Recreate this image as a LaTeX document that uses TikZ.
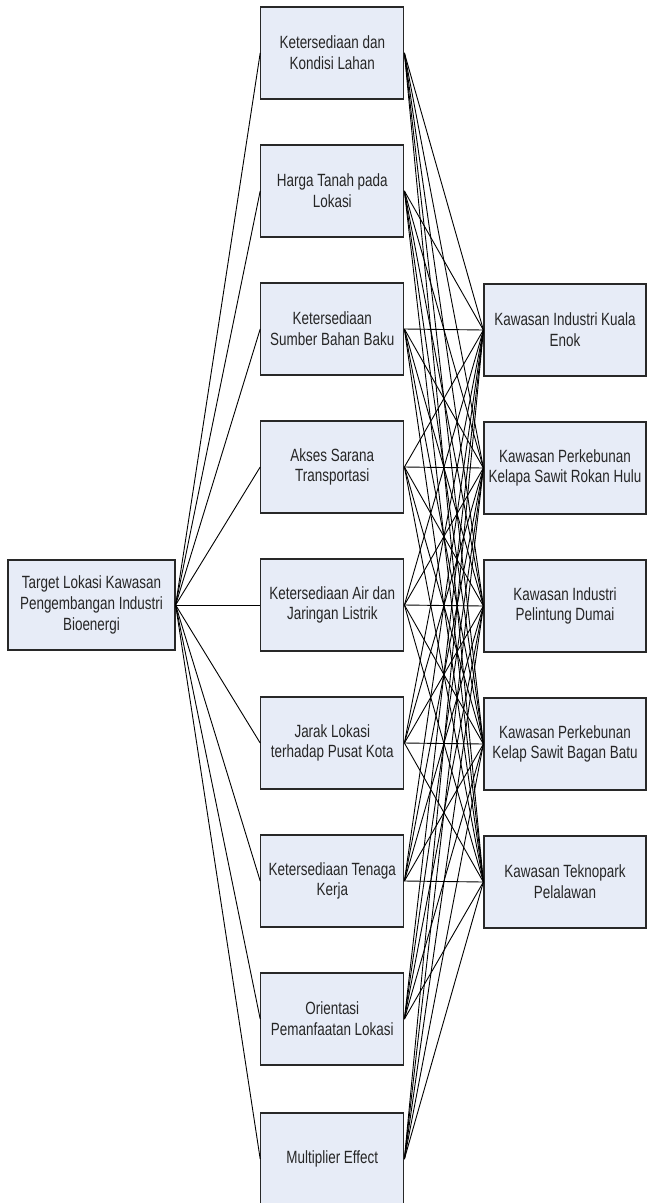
\documentclass[tikz,border=0pt]{standalone}
\usepackage{fontspec}
\newfontfamily\narrowsans[FakeStretch=0.76]{Liberation Sans}
\definecolor{boxfill}{RGB}{231,236,247}
\definecolor{boxline}{RGB}{40,40,40}
\begin{document}
\begin{tikzpicture}[x=1pt,y=-1pt,
  box/.style={draw=boxline,fill=boxfill,line width=1.2pt,align=center,inner sep=0pt,
    font=\narrowsans\fontsize{17.7}{20.7}\selectfont,text=black!85},
  mid/.style={box,minimum width=143pt,minimum height=92pt},
  rgt/.style={box,minimum width=162pt,minimum height=92pt},
  lft/.style={box,minimum width=167pt,minimum height=90pt},
  link/.style={draw=black,line width=0.9pt}]
\useasboundingbox (0,0) rectangle (648,1203);
\node[lft] (t) at (91.5,605) {Target Lokasi Kawasan\\Pengembangan Industri\\Bioenergi};
\node[mid] (m1) at (332.3,53) {Ketersediaan dan\\Kondisi Lahan};
\node[mid] (m2) at (332.3,191) {Harga Tanah pada\\Lokasi};
\node[mid] (m3) at (332.3,329) {Ketersediaan\\Sumber Bahan Baku};
\node[mid] (m4) at (332.3,467) {Akses Sarana\\Transportasi};
\node[mid] (m5) at (332.3,605) {Ketersediaan Air dan\\Jaringan Listrik};
\node[mid] (m6) at (332.3,743) {Jarak Lokasi\\terhadap Pusat Kota};
\node[mid] (m7) at (332.3,881) {Ketersediaan Tenaga\\Kerja};
\node[mid] (m8) at (332.3,1019) {Orientasi\\Pemanfaatan Lokasi};
\node[mid] (m9) at (332.3,1159) {Multiplier Effect};
\node[rgt] (r1) at (565,330) {Kawasan Industri Kuala\\Enok};
\node[rgt] (r2) at (565,468) {Kawasan Perkebunan\\Kelapa Sawit Rokan Hulu};
\node[rgt] (r3) at (565,606) {Kawasan Industri\\Pelintung Dumai};
\node[rgt] (r4) at (565,744) {Kawasan Perkebunan\\Kelap Sawit Bagan Batu};
\node[rgt] (r5) at (565,882) {Kawasan Teknopark\\Pelalawan};
\foreach \m in {1,...,9} {
  \draw[link] (t.east) -- (m\m.west);
  \foreach \r in {1,...,5} {
    \draw[link] (m\m.east) -- (r\r.west);
  }
}
\end{tikzpicture}
\end{document}
